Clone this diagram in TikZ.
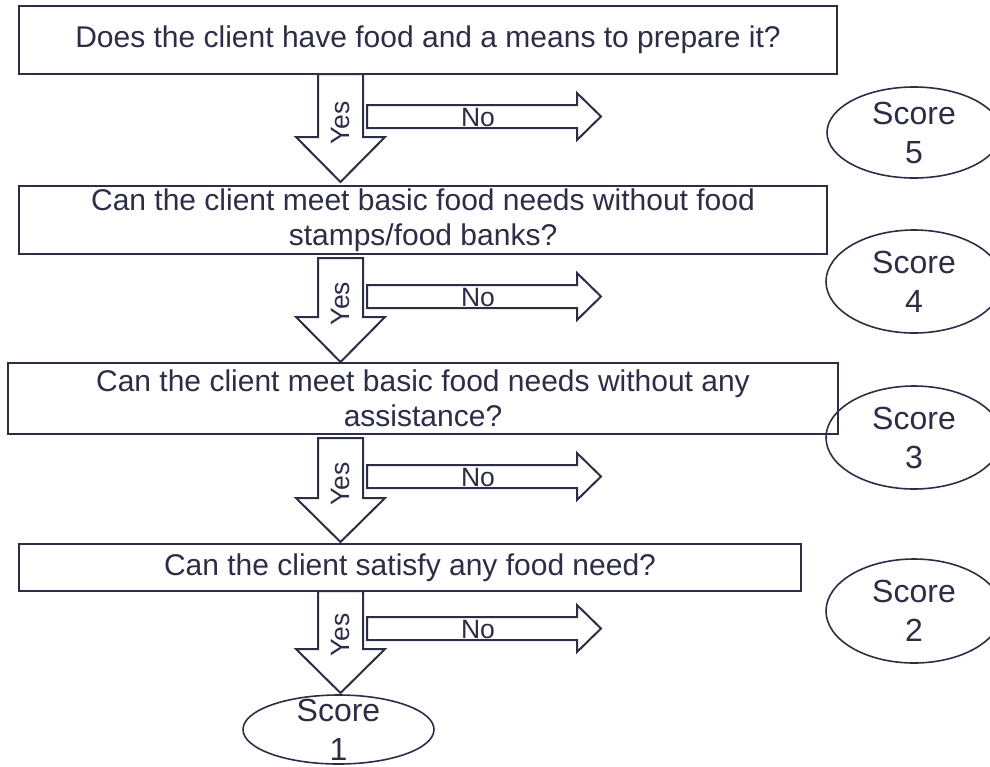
\documentclass[tikz,border=0pt]{standalone}
\usepackage{fontspec}
\setmainfont{Liberation Sans}
\usetikzlibrary{shapes.geometric}
\definecolor{ink}{HTML}{2B2E45}

% block arrow pointing down: top-centre point, shaft length, head length
\newcommand\DownBlockArrow[3]{%
  \draw[blockarrow] (#1) ++(-22.5,0) -- ++(45,0) -- ++(0,#2) -- ++(22,0)
    -- ++(-44.5,#3) -- ++(-44.5,-#3) -- ++(22,0) -- cycle;}
% block arrow pointing right: left-centre point
\newcommand\RightBlockArrow[1]{%
  \draw[blockarrow] (#1) ++(0,-11.5) -- ++(210,0) -- ++(0,-12) -- ++(24,23.5)
    -- ++(-24,23.5) -- ++(0,-12) -- ++(-210,0) -- cycle;}

\begin{document}
\begin{tikzpicture}[x=1pt,y=-1pt,
  box/.style={draw=ink, line width=2.2pt, rectangle, inner sep=0pt, align=center,
    text=ink, font=\fontsize{30}{35}\selectfont},
  scoreshape/.style={draw=ink, line width=1.6pt, ellipse, inner sep=0pt},
  scoretext/.style={inner sep=0pt, align=center, text=ink, font=\fontsize{32}{39}\selectfont},
  blockarrow/.style={draw=ink, line width=2pt, fill=white, line join=miter},
  lbl/.style={text=ink, font=\fontsize{26.5}{26.5}\selectfont, inner sep=0pt}]
\useasboundingbox (0,0) rectangle (990,766);

% question boxes
\node[box, minimum width=818pt, minimum height=68pt] (q1) at (428,40)
  {Does the client have food and a means to prepare it?};
\node[box, minimum width=808pt, minimum height=68pt] (q2) at (423,220)
  {Can the client meet basic food needs without food\\stamps/food banks?};
\node[box, minimum width=830pt, minimum height=71pt] (q3) at (423,398.5)
  {Can the client meet basic food needs without any\\assistance?};
\node[box, minimum width=782pt, minimum height=47pt] (q4) at (410,567.5)
  {Can the client satisfy any food need?};

% score ellipses
\node[scoreshape, minimum width=174pt, minimum height=91pt] (s5) at (914,132.5) {};
\node[scoretext] (s5t) at (s5) {Score\\5};
\node[scoreshape, minimum width=176pt, minimum height=103pt] (s4) at (914,281.5) {};
\node[scoretext] (s4t) at (s4) {Score\\4};
\node[scoreshape, minimum width=176pt, minimum height=103pt] (s3) at (914,437.5) {};
\node[scoretext] (s3t) at (s3) {Score\\3};
\node[scoreshape, minimum width=176pt, minimum height=104pt] (s2) at (914,611) {};
\node[scoretext] (s2t) at (s2) {Score\\2};
\node[scoreshape, minimum width=191pt, minimum height=69pt] (s1) at (338.5,729.5) {};
\node[scoretext] (s1t) at (s1) {Score\\1};

% "Yes" arrows
\coordinate (y1) at (340.5,74);
\coordinate (y2) at (340.5,258);
\coordinate (y3) at (340.5,438);
\coordinate (y4) at (340.5,591);
\DownBlockArrow{y1}{63}{45}
\DownBlockArrow{y2}{59}{45}
\DownBlockArrow{y3}{60}{44}
\DownBlockArrow{y4}{58}{44}
\node[lbl, rotate=90] (yes1) at (340.5,123) {Yes};
\node[lbl, rotate=90] (yes2) at (340.5,303.5) {Yes};
\node[lbl, rotate=90] (yes3) at (340.5,484) {Yes};
\node[lbl, rotate=90] (yes4) at (340.5,635) {Yes};

% "No" arrows
\coordinate (n1) at (367,116.5);
\coordinate (n2) at (367,296.5);
\coordinate (n3) at (367,476.5);
\coordinate (n4) at (367,628.5);
\RightBlockArrow{n1}
\RightBlockArrow{n2}
\RightBlockArrow{n3}
\RightBlockArrow{n4}
\node[lbl] (no1) at (478,118) {No};
\node[lbl] (no2) at (478,298) {No};
\node[lbl] (no3) at (478,478) {No};
\node[lbl] (no4) at (478,630) {No};
\end{tikzpicture}
\end{document}
